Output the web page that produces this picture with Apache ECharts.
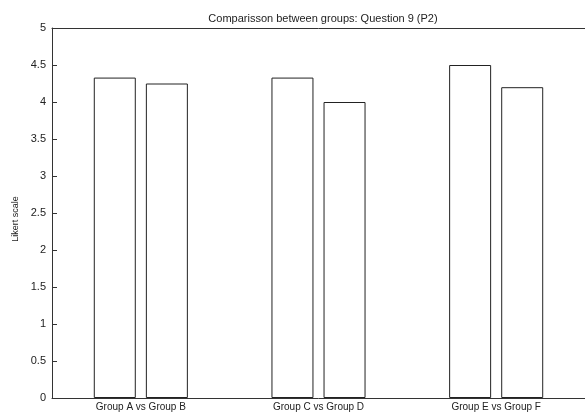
<!DOCTYPE html>
<html>
<head>
<meta charset="utf-8">
<script src="https://cdn.jsdelivr.net/npm/echarts@6/dist/echarts.min.js"></script>
<style>html,body{margin:0;padding:0;background:#fff}#c{width:585px;height:413px}</style>
</head>
<body>
<div id="c"></div>
<script>
var categories = ['Group A vs Group B', 'Group C vs Group D', 'Group E vs Group F'];
var firstValues = [4.33, 4.33, 4.5];
var secondValues = [4.25, 4.0, 4.2];
var yTicks = [0, 0.5, 1, 1.5, 2, 2.5, 3, 3.5, 4, 4.5, 5];
var titleText = 'Comparisson between groups: Question 9 (P2)';
var yLabel = 'Likert scale';

var font = 'Liberation Sans, Arial, sans-serif';
var chart = echarts.init(document.getElementById('c'), null, {renderer: 'canvas'});
var barStyle = {color: '#ffffff', borderColor: '#222222', borderWidth: 1};
chart.setOption({
  animation: false,
  title: {
    text: titleText, left: 318, top: 8, textAlign: 'center',
    textStyle: {fontFamily: font, fontSize: 11, fontWeight: 'normal', color: '#222'}
  },
  grid: {left: 52, top: 28, width: 542, height: 370, containLabel: false},
  xAxis: [{
    type: 'category', data: categories, position: 'bottom',
    axisLine: {lineStyle: {color: '#333', width: 1}},
    axisTick: {inside: true, length: 5, alignWithLabel: true, lineStyle: {color: '#333'}},
    axisLabel: {fontFamily: font, fontSize: 10, color: '#222', margin: 4},
    splitLine: {show: false}
  }, {
    type: 'category', data: categories, position: 'top',
    axisLine: {show: true, lineStyle: {color: '#333', width: 1}},
    axisTick: {inside: true, length: 5, alignWithLabel: true, lineStyle: {color: '#333'}},
    axisLabel: {show: false}
  }],
  yAxis: [{
    type: 'value', min: 0, max: 5, interval: 0.5,
    name: yLabel, nameLocation: 'middle', nameGap: 29, nameRotate: 90,
    nameTextStyle: {fontFamily: font, fontSize: 9, color: '#222', padding: [0, 0, 0, -12]},
    axisLine: {show: true, lineStyle: {color: '#333', width: 1}},
    axisTick: {show: true, inside: true, length: 5, lineStyle: {color: '#333'}},
    axisLabel: {fontFamily: font, fontSize: 11, color: '#222', margin: 6,
      formatter: function (v) { return yTicks.indexOf(v) >= 0 ? String(v) : ''; }},
    splitLine: {show: false}
  }],
  series: [{
    type: 'bar', data: firstValues, barWidth: 42, barGap: '24%', itemStyle: barStyle
  }, {
    type: 'bar', data: secondValues, barWidth: 42, barGap: '24%', itemStyle: barStyle
  }]
});
</script>
</body>
</html>
